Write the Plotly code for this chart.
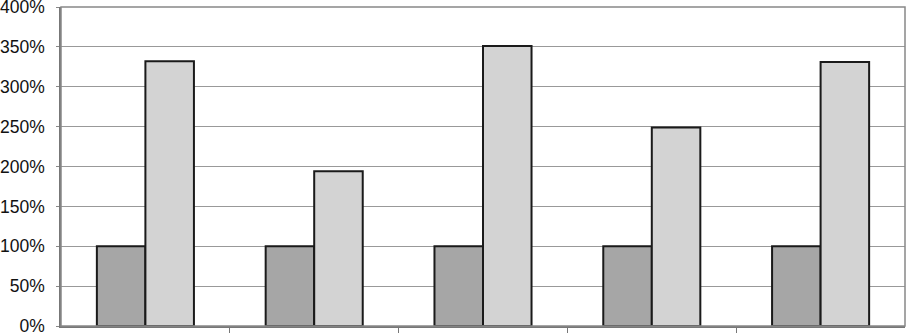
import plotly.graph_objects as go

categories = ["A", "B", "C", "D", "E"]
series1 = [100, 100, 100, 100, 100]
series2 = [332, 194, 351, 249, 331]
y_ticks = [0, 50, 100, 150, 200, 250, 300, 350, 400]
y_tick_labels = [f"{v}%" for v in y_ticks]

x = list(range(len(categories)))

fig = go.Figure()
fig.add_bar(x=x, y=series1, marker=dict(color="#a6a6a6", line=dict(color="#1a1a1a", width=2)), name="s1")
fig.add_bar(x=x, y=series2, marker=dict(color="#d3d3d3", line=dict(color="#1a1a1a", width=2)), name="s2")

fig.update_layout(
    width=907, height=333,
    margin=dict(l=61, r=2, t=7, b=7, autoexpand=False),
    barmode="group", bargap=0.425, bargroupgap=0,
    plot_bgcolor="white", paper_bgcolor="white",
    showlegend=False,
    font=dict(family="Arial", size=17.5, color="#111"),
    shapes=[dict(type="rect", xref="paper", yref="paper", x0=0, x1=1, y0=0, y1=1,
                 line=dict(color="#888", width=1.5), fillcolor="rgba(0,0,0,0)", layer="above")],
)
fig.update_xaxes(
    range=[-0.5, len(categories) - 0.5],
    tickmode="array", tickvals=[i + 0.5 for i in range(len(categories) - 1)],
    ticktext=["" for _ in range(len(categories) - 1)],
    ticks="outside", ticklen=5, tickcolor="#777", tickwidth=1,
    showgrid=False, zeroline=False, showline=True, linecolor="#777", linewidth=1.5,
)
fig.update_yaxes(
    range=[0, 400], tickmode="array", tickvals=y_ticks, ticktext=y_tick_labels,
    ticks="outside", ticklen=3, tickcolor="#888",
    showgrid=True, gridcolor="#999", gridwidth=1,
    zeroline=False, showline=True, linecolor="#777", linewidth=1.5,
    ticklabelstandoff=8, ticklabeloverflow="allow",
)

fig.write_html("out.html", config={"displayModeBar": False},
               post_script="document.body.style.margin='0px';")
